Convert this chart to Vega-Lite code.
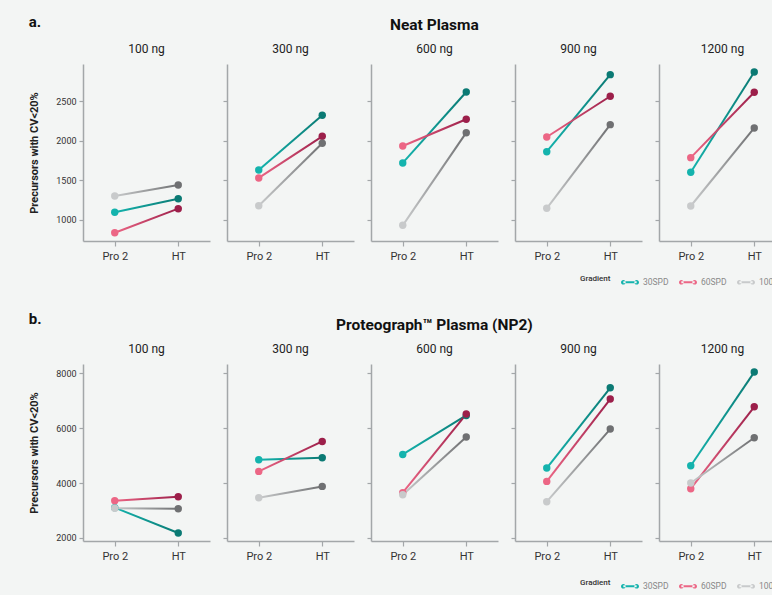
{
"$schema": "https://vega.github.io/schema/vega-lite/v6.json",
"background": "#f3f5f4",
"padding": {"left": 28, "top": 14, "right": 5, "bottom": 5},
"config": {
  "font": "Roboto",
  "view": {"stroke": null},
  "axis": {"grid": false, "domainColor": "#a3a7a9", "domainWidth": 1.5, "tickColor": "#a3a7a9", "tickWidth": 1.2, "labelColor": "#333", "labelFont": "Roboto", "titleFont": "Roboto"},
  "axisX": {"labelFontSize": 11, "tickSize": 5, "labelPadding": 4, "labelAngle": 0},
  "axisY": {"labelFontSize": 9, "tickSize": 4, "labelPadding": 3, "titleFontSize": 11, "titleFontWeight": "bold", "titleColor": "#222", "titlePadding": 16, "format": "d"},
  "title": {"font": "Roboto", "fontSize": 12, "fontWeight": "normal", "color": "#222", "offset": 8},
  "legend": {"orient": "none", "legendX": 497, "legendY": 208, "direction": "horizontal", "titleOrient": "left", "title": "Gradient", "titleFontSize": 8, "titleFontWeight": 500, "titleColor": "#333", "labelFontSize": 8.5, "labelColor": "#888", "symbolSize": 324, "columnPadding": 9, "labelOffset": 3, "titlePadding": 9}
},
"data": {"values": [
  {"plasma": "Neat", "amount": "100 ng", "gradient": "30SPD", "method": "Pro 2", "value": 1095},
  {"plasma": "Neat", "amount": "100 ng", "gradient": "30SPD", "method": "HT", "value": 1265},
  {"plasma": "Neat", "amount": "100 ng", "gradient": "60SPD", "method": "Pro 2", "value": 835},
  {"plasma": "Neat", "amount": "100 ng", "gradient": "60SPD", "method": "HT", "value": 1140},
  {"plasma": "Neat", "amount": "100 ng", "gradient": "100SPD", "method": "Pro 2", "value": 1300},
  {"plasma": "Neat", "amount": "100 ng", "gradient": "100SPD", "method": "HT", "value": 1440},
  {"plasma": "Neat", "amount": "300 ng", "gradient": "30SPD", "method": "Pro 2", "value": 1630},
  {"plasma": "Neat", "amount": "300 ng", "gradient": "30SPD", "method": "HT", "value": 2325},
  {"plasma": "Neat", "amount": "300 ng", "gradient": "60SPD", "method": "Pro 2", "value": 1530},
  {"plasma": "Neat", "amount": "300 ng", "gradient": "60SPD", "method": "HT", "value": 2058},
  {"plasma": "Neat", "amount": "300 ng", "gradient": "100SPD", "method": "Pro 2", "value": 1178},
  {"plasma": "Neat", "amount": "300 ng", "gradient": "100SPD", "method": "HT", "value": 1970},
  {"plasma": "Neat", "amount": "600 ng", "gradient": "30SPD", "method": "Pro 2", "value": 1720},
  {"plasma": "Neat", "amount": "600 ng", "gradient": "30SPD", "method": "HT", "value": 2620},
  {"plasma": "Neat", "amount": "600 ng", "gradient": "60SPD", "method": "Pro 2", "value": 1935},
  {"plasma": "Neat", "amount": "600 ng", "gradient": "60SPD", "method": "HT", "value": 2274},
  {"plasma": "Neat", "amount": "600 ng", "gradient": "100SPD", "method": "Pro 2", "value": 929},
  {"plasma": "Neat", "amount": "600 ng", "gradient": "100SPD", "method": "HT", "value": 2104},
  {"plasma": "Neat", "amount": "900 ng", "gradient": "30SPD", "method": "Pro 2", "value": 1863},
  {"plasma": "Neat", "amount": "900 ng", "gradient": "30SPD", "method": "HT", "value": 2840},
  {"plasma": "Neat", "amount": "900 ng", "gradient": "60SPD", "method": "Pro 2", "value": 2049},
  {"plasma": "Neat", "amount": "900 ng", "gradient": "60SPD", "method": "HT", "value": 2566},
  {"plasma": "Neat", "amount": "900 ng", "gradient": "100SPD", "method": "Pro 2", "value": 1145},
  {"plasma": "Neat", "amount": "900 ng", "gradient": "100SPD", "method": "HT", "value": 2206},
  {"plasma": "Neat", "amount": "1200 ng", "gradient": "30SPD", "method": "Pro 2", "value": 1601},
  {"plasma": "Neat", "amount": "1200 ng", "gradient": "30SPD", "method": "HT", "value": 2874},
  {"plasma": "Neat", "amount": "1200 ng", "gradient": "60SPD", "method": "Pro 2", "value": 1787},
  {"plasma": "Neat", "amount": "1200 ng", "gradient": "60SPD", "method": "HT", "value": 2617},
  {"plasma": "Neat", "amount": "1200 ng", "gradient": "100SPD", "method": "Pro 2", "value": 1174},
  {"plasma": "Neat", "amount": "1200 ng", "gradient": "100SPD", "method": "HT", "value": 2164},
  {"plasma": "NP2", "amount": "100 ng", "gradient": "30SPD", "method": "Pro 2", "value": 3102},
  {"plasma": "NP2", "amount": "100 ng", "gradient": "30SPD", "method": "HT", "value": 2182},
  {"plasma": "NP2", "amount": "100 ng", "gradient": "60SPD", "method": "Pro 2", "value": 3356},
  {"plasma": "NP2", "amount": "100 ng", "gradient": "60SPD", "method": "HT", "value": 3502},
  {"plasma": "NP2", "amount": "100 ng", "gradient": "100SPD", "method": "Pro 2", "value": 3080},
  {"plasma": "NP2", "amount": "100 ng", "gradient": "100SPD", "method": "HT", "value": 3065},
  {"plasma": "NP2", "amount": "300 ng", "gradient": "30SPD", "method": "Pro 2", "value": 4847},
  {"plasma": "NP2", "amount": "300 ng", "gradient": "30SPD", "method": "HT", "value": 4920},
  {"plasma": "NP2", "amount": "300 ng", "gradient": "60SPD", "method": "Pro 2", "value": 4422},
  {"plasma": "NP2", "amount": "300 ng", "gradient": "60SPD", "method": "HT", "value": 5513},
  {"plasma": "NP2", "amount": "300 ng", "gradient": "100SPD", "method": "Pro 2", "value": 3465},
  {"plasma": "NP2", "amount": "300 ng", "gradient": "100SPD", "method": "HT", "value": 3876},
  {"plasma": "NP2", "amount": "600 ng", "gradient": "30SPD", "method": "Pro 2", "value": 5040},
  {"plasma": "NP2", "amount": "600 ng", "gradient": "30SPD", "method": "HT", "value": 6458},
  {"plasma": "NP2", "amount": "600 ng", "gradient": "60SPD", "method": "Pro 2", "value": 3647},
  {"plasma": "NP2", "amount": "600 ng", "gradient": "60SPD", "method": "HT", "value": 6509},
  {"plasma": "NP2", "amount": "600 ng", "gradient": "100SPD", "method": "Pro 2", "value": 3574},
  {"plasma": "NP2", "amount": "600 ng", "gradient": "100SPD", "method": "HT", "value": 5672},
  {"plasma": "NP2", "amount": "900 ng", "gradient": "30SPD", "method": "Pro 2", "value": 4545},
  {"plasma": "NP2", "amount": "900 ng", "gradient": "30SPD", "method": "HT", "value": 7465},
  {"plasma": "NP2", "amount": "900 ng", "gradient": "60SPD", "method": "Pro 2", "value": 4058},
  {"plasma": "NP2", "amount": "900 ng", "gradient": "60SPD", "method": "HT", "value": 7054},
  {"plasma": "NP2", "amount": "900 ng", "gradient": "100SPD", "method": "Pro 2", "value": 3320},
  {"plasma": "NP2", "amount": "900 ng", "gradient": "100SPD", "method": "HT", "value": 5963},
  {"plasma": "NP2", "amount": "1200 ng", "gradient": "30SPD", "method": "Pro 2", "value": 4629},
  {"plasma": "NP2", "amount": "1200 ng", "gradient": "30SPD", "method": "HT", "value": 8036},
  {"plasma": "NP2", "amount": "1200 ng", "gradient": "60SPD", "method": "Pro 2", "value": 3793},
  {"plasma": "NP2", "amount": "1200 ng", "gradient": "60SPD", "method": "HT", "value": 6774},
  {"plasma": "NP2", "amount": "1200 ng", "gradient": "100SPD", "method": "Pro 2", "value": 4000},
  {"plasma": "NP2", "amount": "1200 ng", "gradient": "100SPD", "method": "HT", "value": 5647}
]},
"resolve": {"legend": {"color": "independent"}},
"spacing": 24,
"vconcat": [
{
  "title": {"text": "a.", "anchor": "start", "fontSize": 15, "fontWeight": "bold", "color": "#111", "dy": 20},
  "vconcat": [{
    "title": {"text": "Neat Plasma", "anchor": "middle", "fontSize": 15.5, "fontWeight": "bold", "color": "#111", "offset": 10, "dx": 27},
    "spacing": 12,
    "hconcat": [
      {"width": 127, "height": 177, "title": "100 ng",
       "transform": [{"filter": "datum.plasma == 'Neat' && datum.amount == '100 ng'"}],
       "encoding": {"x": {"field": "method", "type": "ordinal", "sort": ["Pro 2", "HT"], "scale": {"type": "point", "padding": 0.5}, "axis": {"title": null}},
                    "y": {"field": "value", "type": "quantitative", "scale": {"domain": [730, 2975], "nice": false, "zero": false}, "axis": {"title": "Precursors with CV<20%", "values": [1000, 1500, 2000, 2500]}}},
       "layer": [
         {"transform": [{"filter": "datum.gradient == '30SPD'"}], "mark": {"type": "line", "strokeWidth": 2, "stroke": {"gradient": "linear", "x1": 0, "y1": 0, "x2": 1, "y2": 0, "stops": [{"offset": 0, "color": "#14b3ad"}, {"offset": 1, "color": "#0b7a74"}]}}},
         {"transform": [{"filter": "datum.gradient == '60SPD'"}], "mark": {"type": "line", "strokeWidth": 2, "stroke": {"gradient": "linear", "x1": 0, "y1": 0, "x2": 1, "y2": 0, "stops": [{"offset": 0, "color": "#ec6685"}, {"offset": 1, "color": "#9c1f4a"}]}}},
         {"transform": [{"filter": "datum.gradient == '100SPD'"}], "mark": {"type": "line", "strokeWidth": 2, "stroke": {"gradient": "linear", "x1": 0, "y1": 0, "x2": 1, "y2": 0, "stops": [{"offset": 0, "color": "#c8cacb"}, {"offset": 1, "color": "#6f7072"}]}}},
         {"transform": [{"filter": "datum.method == 'Pro 2'"}], "mark": {"type": "circle", "size": 55, "opacity": 1}, "encoding": {"color": {"field": "gradient", "type": "nominal", "scale": {"domain": ["30SPD", "60SPD", "100SPD"], "range": ["#14b3ad", "#ec6685", "#c8cacb"]}, "legend": {"title": "Gradient", "symbolType": "M-1,0A0.26,0.26 0 1,0 -0.48,0A0.26,0.26 0 1,0 -1,0ZM0.48,0A0.26,0.26 0 1,0 1,0A0.26,0.26 0 1,0 0.48,0ZM-0.74,-0.12L0.74,-0.12L0.74,0.12L-0.74,0.12Z", "encode": {"symbols": {"update": {"fill": {"signal": "datum.value === '30SPD' ? {gradient: 'linear', x1: 0, y1: 0, x2: 1, y2: 0, stops: [{offset: 0, color: '#14b3ad'}, {offset: 1, color: '#0b7a74'}]} : datum.value === '60SPD' ? {gradient: 'linear', x1: 0, y1: 0, x2: 1, y2: 0, stops: [{offset: 0, color: '#ec6685'}, {offset: 1, color: '#9c1f4a'}]} : {gradient: 'linear', x1: 0, y1: 0, x2: 1, y2: 0, stops: [{offset: 0, color: '#c8cacb'}, {offset: 1, color: '#6f7072'}]}"}, "stroke": {"value": null}, "opacity": {"value": 1}}}}}}}},
         {"transform": [{"filter": "datum.method == 'HT'"}], "mark": {"type": "circle", "size": 55, "opacity": 1}, "encoding": {"fill": {"field": "gradient", "type": "nominal", "scale": {"domain": ["30SPD", "60SPD", "100SPD"], "range": ["#0b7a74", "#9c1f4a", "#6f7072"]}, "legend": null}}}
       ]},
      {"width": 127, "height": 177, "title": "300 ng",
       "transform": [{"filter": "datum.plasma == 'Neat' && datum.amount == '300 ng'"}],
       "encoding": {"x": {"field": "method", "type": "ordinal", "sort": ["Pro 2", "HT"], "scale": {"type": "point", "padding": 0.5}, "axis": {"title": null}},
                    "y": {"field": "value", "type": "quantitative", "scale": {"domain": [730, 2975], "nice": false, "zero": false}, "axis": {"title": null, "labels": false, "values": [1000, 1500, 2000, 2500]}}},
       "layer": [
         {"transform": [{"filter": "datum.gradient == '30SPD'"}], "mark": {"type": "line", "strokeWidth": 2, "stroke": {"gradient": "linear", "x1": 0, "y1": 0, "x2": 1, "y2": 0, "stops": [{"offset": 0, "color": "#14b3ad"}, {"offset": 1, "color": "#0b7a74"}]}}},
         {"transform": [{"filter": "datum.gradient == '60SPD'"}], "mark": {"type": "line", "strokeWidth": 2, "stroke": {"gradient": "linear", "x1": 0, "y1": 0, "x2": 1, "y2": 0, "stops": [{"offset": 0, "color": "#ec6685"}, {"offset": 1, "color": "#9c1f4a"}]}}},
         {"transform": [{"filter": "datum.gradient == '100SPD'"}], "mark": {"type": "line", "strokeWidth": 2, "stroke": {"gradient": "linear", "x1": 0, "y1": 0, "x2": 1, "y2": 0, "stops": [{"offset": 0, "color": "#c8cacb"}, {"offset": 1, "color": "#6f7072"}]}}},
         {"transform": [{"filter": "datum.method == 'Pro 2'"}], "mark": {"type": "circle", "size": 55, "opacity": 1}, "encoding": {"color": {"field": "gradient", "type": "nominal", "scale": {"domain": ["30SPD", "60SPD", "100SPD"], "range": ["#14b3ad", "#ec6685", "#c8cacb"]}}}},
         {"transform": [{"filter": "datum.method == 'HT'"}], "mark": {"type": "circle", "size": 55, "opacity": 1}, "encoding": {"fill": {"field": "gradient", "type": "nominal", "scale": {"domain": ["30SPD", "60SPD", "100SPD"], "range": ["#0b7a74", "#9c1f4a", "#6f7072"]}, "legend": null}}}
       ]},
      {"width": 127, "height": 177, "title": "600 ng",
       "transform": [{"filter": "datum.plasma == 'Neat' && datum.amount == '600 ng'"}],
       "encoding": {"x": {"field": "method", "type": "ordinal", "sort": ["Pro 2", "HT"], "scale": {"type": "point", "padding": 0.5}, "axis": {"title": null}},
                    "y": {"field": "value", "type": "quantitative", "scale": {"domain": [730, 2975], "nice": false, "zero": false}, "axis": {"title": null, "labels": false, "values": [1000, 1500, 2000, 2500]}}},
       "layer": [
         {"transform": [{"filter": "datum.gradient == '30SPD'"}], "mark": {"type": "line", "strokeWidth": 2, "stroke": {"gradient": "linear", "x1": 0, "y1": 0, "x2": 1, "y2": 0, "stops": [{"offset": 0, "color": "#14b3ad"}, {"offset": 1, "color": "#0b7a74"}]}}},
         {"transform": [{"filter": "datum.gradient == '60SPD'"}], "mark": {"type": "line", "strokeWidth": 2, "stroke": {"gradient": "linear", "x1": 0, "y1": 0, "x2": 1, "y2": 0, "stops": [{"offset": 0, "color": "#ec6685"}, {"offset": 1, "color": "#9c1f4a"}]}}},
         {"transform": [{"filter": "datum.gradient == '100SPD'"}], "mark": {"type": "line", "strokeWidth": 2, "stroke": {"gradient": "linear", "x1": 0, "y1": 0, "x2": 1, "y2": 0, "stops": [{"offset": 0, "color": "#c8cacb"}, {"offset": 1, "color": "#6f7072"}]}}},
         {"transform": [{"filter": "datum.method == 'Pro 2'"}], "mark": {"type": "circle", "size": 55, "opacity": 1}, "encoding": {"color": {"field": "gradient", "type": "nominal", "scale": {"domain": ["30SPD", "60SPD", "100SPD"], "range": ["#14b3ad", "#ec6685", "#c8cacb"]}}}},
         {"transform": [{"filter": "datum.method == 'HT'"}], "mark": {"type": "circle", "size": 55, "opacity": 1}, "encoding": {"fill": {"field": "gradient", "type": "nominal", "scale": {"domain": ["30SPD", "60SPD", "100SPD"], "range": ["#0b7a74", "#9c1f4a", "#6f7072"]}, "legend": null}}}
       ]},
      {"width": 127, "height": 177, "title": "900 ng",
       "transform": [{"filter": "datum.plasma == 'Neat' && datum.amount == '900 ng'"}],
       "encoding": {"x": {"field": "method", "type": "ordinal", "sort": ["Pro 2", "HT"], "scale": {"type": "point", "padding": 0.5}, "axis": {"title": null}},
                    "y": {"field": "value", "type": "quantitative", "scale": {"domain": [730, 2975], "nice": false, "zero": false}, "axis": {"title": null, "labels": false, "values": [1000, 1500, 2000, 2500]}}},
       "layer": [
         {"transform": [{"filter": "datum.gradient == '30SPD'"}], "mark": {"type": "line", "strokeWidth": 2, "stroke": {"gradient": "linear", "x1": 0, "y1": 0, "x2": 1, "y2": 0, "stops": [{"offset": 0, "color": "#14b3ad"}, {"offset": 1, "color": "#0b7a74"}]}}},
         {"transform": [{"filter": "datum.gradient == '60SPD'"}], "mark": {"type": "line", "strokeWidth": 2, "stroke": {"gradient": "linear", "x1": 0, "y1": 0, "x2": 1, "y2": 0, "stops": [{"offset": 0, "color": "#ec6685"}, {"offset": 1, "color": "#9c1f4a"}]}}},
         {"transform": [{"filter": "datum.gradient == '100SPD'"}], "mark": {"type": "line", "strokeWidth": 2, "stroke": {"gradient": "linear", "x1": 0, "y1": 0, "x2": 1, "y2": 0, "stops": [{"offset": 0, "color": "#c8cacb"}, {"offset": 1, "color": "#6f7072"}]}}},
         {"transform": [{"filter": "datum.method == 'Pro 2'"}], "mark": {"type": "circle", "size": 55, "opacity": 1}, "encoding": {"color": {"field": "gradient", "type": "nominal", "scale": {"domain": ["30SPD", "60SPD", "100SPD"], "range": ["#14b3ad", "#ec6685", "#c8cacb"]}}}},
         {"transform": [{"filter": "datum.method == 'HT'"}], "mark": {"type": "circle", "size": 55, "opacity": 1}, "encoding": {"fill": {"field": "gradient", "type": "nominal", "scale": {"domain": ["30SPD", "60SPD", "100SPD"], "range": ["#0b7a74", "#9c1f4a", "#6f7072"]}, "legend": null}}}
       ]},
      {"width": 127, "height": 177, "title": "1200 ng",
       "transform": [{"filter": "datum.plasma == 'Neat' && datum.amount == '1200 ng'"}],
       "encoding": {"x": {"field": "method", "type": "ordinal", "sort": ["Pro 2", "HT"], "scale": {"type": "point", "padding": 0.5}, "axis": {"title": null}},
                    "y": {"field": "value", "type": "quantitative", "scale": {"domain": [730, 2975], "nice": false, "zero": false}, "axis": {"title": null, "labels": false, "values": [1000, 1500, 2000, 2500]}}},
       "layer": [
         {"transform": [{"filter": "datum.gradient == '30SPD'"}], "mark": {"type": "line", "strokeWidth": 2, "stroke": {"gradient": "linear", "x1": 0, "y1": 0, "x2": 1, "y2": 0, "stops": [{"offset": 0, "color": "#14b3ad"}, {"offset": 1, "color": "#0b7a74"}]}}},
         {"transform": [{"filter": "datum.gradient == '60SPD'"}], "mark": {"type": "line", "strokeWidth": 2, "stroke": {"gradient": "linear", "x1": 0, "y1": 0, "x2": 1, "y2": 0, "stops": [{"offset": 0, "color": "#ec6685"}, {"offset": 1, "color": "#9c1f4a"}]}}},
         {"transform": [{"filter": "datum.gradient == '100SPD'"}], "mark": {"type": "line", "strokeWidth": 2, "stroke": {"gradient": "linear", "x1": 0, "y1": 0, "x2": 1, "y2": 0, "stops": [{"offset": 0, "color": "#c8cacb"}, {"offset": 1, "color": "#6f7072"}]}}},
         {"transform": [{"filter": "datum.method == 'Pro 2'"}], "mark": {"type": "circle", "size": 55, "opacity": 1}, "encoding": {"color": {"field": "gradient", "type": "nominal", "scale": {"domain": ["30SPD", "60SPD", "100SPD"], "range": ["#14b3ad", "#ec6685", "#c8cacb"]}}}},
         {"transform": [{"filter": "datum.method == 'HT'"}], "mark": {"type": "circle", "size": 55, "opacity": 1}, "encoding": {"fill": {"field": "gradient", "type": "nominal", "scale": {"domain": ["30SPD", "60SPD", "100SPD"], "range": ["#0b7a74", "#9c1f4a", "#6f7072"]}, "legend": null}}}
       ]}
    ]
  }]
},
{
  "title": {"text": "b.", "anchor": "start", "fontSize": 15, "fontWeight": "bold", "color": "#111", "dy": 17},
  "vconcat": [{
    "title": {"text": "Proteograph™ Plasma (NP2)", "anchor": "middle", "fontSize": 15.5, "fontWeight": "bold", "color": "#111", "offset": 10, "dx": 27},
    "spacing": 12,
    "hconcat": [
      {"width": 127, "height": 177, "title": "100 ng",
       "transform": [{"filter": "datum.plasma == 'NP2' && datum.amount == '100 ng'"}],
       "encoding": {"x": {"field": "method", "type": "ordinal", "sort": ["Pro 2", "HT"], "scale": {"type": "point", "padding": 0.5}, "axis": {"title": null}},
                    "y": {"field": "value", "type": "quantitative", "scale": {"domain": [1890, 8330], "nice": false, "zero": false}, "axis": {"title": "Precursors with CV<20%", "values": [2000, 4000, 6000, 8000]}}},
       "layer": [
         {"transform": [{"filter": "datum.gradient == '30SPD'"}], "mark": {"type": "line", "strokeWidth": 2, "stroke": {"gradient": "linear", "x1": 0, "y1": 0, "x2": 1, "y2": 0, "stops": [{"offset": 0, "color": "#14b3ad"}, {"offset": 1, "color": "#0b7a74"}]}}},
         {"transform": [{"filter": "datum.gradient == '60SPD'"}], "mark": {"type": "line", "strokeWidth": 2, "stroke": {"gradient": "linear", "x1": 0, "y1": 0, "x2": 1, "y2": 0, "stops": [{"offset": 0, "color": "#ec6685"}, {"offset": 1, "color": "#9c1f4a"}]}}},
         {"transform": [{"filter": "datum.gradient == '100SPD'"}], "mark": {"type": "line", "strokeWidth": 2, "stroke": {"gradient": "linear", "x1": 0, "y1": 0, "x2": 1, "y2": 0, "stops": [{"offset": 0, "color": "#c8cacb"}, {"offset": 1, "color": "#6f7072"}]}}},
         {"transform": [{"filter": "datum.method == 'Pro 2'"}], "mark": {"type": "circle", "size": 55, "opacity": 1}, "encoding": {"color": {"field": "gradient", "type": "nominal", "scale": {"domain": ["30SPD", "60SPD", "100SPD"], "range": ["#14b3ad", "#ec6685", "#c8cacb"]}, "legend": {"title": "Gradient", "legendY": 212, "symbolType": "M-1,0A0.26,0.26 0 1,0 -0.48,0A0.26,0.26 0 1,0 -1,0ZM0.48,0A0.26,0.26 0 1,0 1,0A0.26,0.26 0 1,0 0.48,0ZM-0.74,-0.12L0.74,-0.12L0.74,0.12L-0.74,0.12Z", "encode": {"symbols": {"update": {"fill": {"signal": "datum.value === '30SPD' ? {gradient: 'linear', x1: 0, y1: 0, x2: 1, y2: 0, stops: [{offset: 0, color: '#14b3ad'}, {offset: 1, color: '#0b7a74'}]} : datum.value === '60SPD' ? {gradient: 'linear', x1: 0, y1: 0, x2: 1, y2: 0, stops: [{offset: 0, color: '#ec6685'}, {offset: 1, color: '#9c1f4a'}]} : {gradient: 'linear', x1: 0, y1: 0, x2: 1, y2: 0, stops: [{offset: 0, color: '#c8cacb'}, {offset: 1, color: '#6f7072'}]}"}, "stroke": {"value": null}, "opacity": {"value": 1}}}}}}}},
         {"transform": [{"filter": "datum.method == 'HT'"}], "mark": {"type": "circle", "size": 55, "opacity": 1}, "encoding": {"fill": {"field": "gradient", "type": "nominal", "scale": {"domain": ["30SPD", "60SPD", "100SPD"], "range": ["#0b7a74", "#9c1f4a", "#6f7072"]}, "legend": null}}}
       ]},
      {"width": 127, "height": 177, "title": "300 ng",
       "transform": [{"filter": "datum.plasma == 'NP2' && datum.amount == '300 ng'"}],
       "encoding": {"x": {"field": "method", "type": "ordinal", "sort": ["Pro 2", "HT"], "scale": {"type": "point", "padding": 0.5}, "axis": {"title": null}},
                    "y": {"field": "value", "type": "quantitative", "scale": {"domain": [1890, 8330], "nice": false, "zero": false}, "axis": {"title": null, "labels": false, "values": [2000, 4000, 6000, 8000]}}},
       "layer": [
         {"transform": [{"filter": "datum.gradient == '30SPD'"}], "mark": {"type": "line", "strokeWidth": 2, "stroke": {"gradient": "linear", "x1": 0, "y1": 0, "x2": 1, "y2": 0, "stops": [{"offset": 0, "color": "#14b3ad"}, {"offset": 1, "color": "#0b7a74"}]}}},
         {"transform": [{"filter": "datum.gradient == '60SPD'"}], "mark": {"type": "line", "strokeWidth": 2, "stroke": {"gradient": "linear", "x1": 0, "y1": 0, "x2": 1, "y2": 0, "stops": [{"offset": 0, "color": "#ec6685"}, {"offset": 1, "color": "#9c1f4a"}]}}},
         {"transform": [{"filter": "datum.gradient == '100SPD'"}], "mark": {"type": "line", "strokeWidth": 2, "stroke": {"gradient": "linear", "x1": 0, "y1": 0, "x2": 1, "y2": 0, "stops": [{"offset": 0, "color": "#c8cacb"}, {"offset": 1, "color": "#6f7072"}]}}},
         {"transform": [{"filter": "datum.method == 'Pro 2'"}], "mark": {"type": "circle", "size": 55, "opacity": 1}, "encoding": {"color": {"field": "gradient", "type": "nominal", "scale": {"domain": ["30SPD", "60SPD", "100SPD"], "range": ["#14b3ad", "#ec6685", "#c8cacb"]}}}},
         {"transform": [{"filter": "datum.method == 'HT'"}], "mark": {"type": "circle", "size": 55, "opacity": 1}, "encoding": {"fill": {"field": "gradient", "type": "nominal", "scale": {"domain": ["30SPD", "60SPD", "100SPD"], "range": ["#0b7a74", "#9c1f4a", "#6f7072"]}, "legend": null}}}
       ]},
      {"width": 127, "height": 177, "title": "600 ng",
       "transform": [{"filter": "datum.plasma == 'NP2' && datum.amount == '600 ng'"}],
       "encoding": {"x": {"field": "method", "type": "ordinal", "sort": ["Pro 2", "HT"], "scale": {"type": "point", "padding": 0.5}, "axis": {"title": null}},
                    "y": {"field": "value", "type": "quantitative", "scale": {"domain": [1890, 8330], "nice": false, "zero": false}, "axis": {"title": null, "labels": false, "values": [2000, 4000, 6000, 8000]}}},
       "layer": [
         {"transform": [{"filter": "datum.gradient == '30SPD'"}], "mark": {"type": "line", "strokeWidth": 2, "stroke": {"gradient": "linear", "x1": 0, "y1": 0, "x2": 1, "y2": 0, "stops": [{"offset": 0, "color": "#14b3ad"}, {"offset": 1, "color": "#0b7a74"}]}}},
         {"transform": [{"filter": "datum.gradient == '60SPD'"}], "mark": {"type": "line", "strokeWidth": 2, "stroke": {"gradient": "linear", "x1": 0, "y1": 0, "x2": 1, "y2": 0, "stops": [{"offset": 0, "color": "#ec6685"}, {"offset": 1, "color": "#9c1f4a"}]}}},
         {"transform": [{"filter": "datum.gradient == '100SPD'"}], "mark": {"type": "line", "strokeWidth": 2, "stroke": {"gradient": "linear", "x1": 0, "y1": 0, "x2": 1, "y2": 0, "stops": [{"offset": 0, "color": "#c8cacb"}, {"offset": 1, "color": "#6f7072"}]}}},
         {"transform": [{"filter": "datum.method == 'Pro 2'"}], "mark": {"type": "circle", "size": 55, "opacity": 1}, "encoding": {"color": {"field": "gradient", "type": "nominal", "scale": {"domain": ["30SPD", "60SPD", "100SPD"], "range": ["#14b3ad", "#ec6685", "#c8cacb"]}}}},
         {"transform": [{"filter": "datum.method == 'HT'"}], "mark": {"type": "circle", "size": 55, "opacity": 1}, "encoding": {"fill": {"field": "gradient", "type": "nominal", "scale": {"domain": ["30SPD", "60SPD", "100SPD"], "range": ["#0b7a74", "#9c1f4a", "#6f7072"]}, "legend": null}}}
       ]},
      {"width": 127, "height": 177, "title": "900 ng",
       "transform": [{"filter": "datum.plasma == 'NP2' && datum.amount == '900 ng'"}],
       "encoding": {"x": {"field": "method", "type": "ordinal", "sort": ["Pro 2", "HT"], "scale": {"type": "point", "padding": 0.5}, "axis": {"title": null}},
                    "y": {"field": "value", "type": "quantitative", "scale": {"domain": [1890, 8330], "nice": false, "zero": false}, "axis": {"title": null, "labels": false, "values": [2000, 4000, 6000, 8000]}}},
       "layer": [
         {"transform": [{"filter": "datum.gradient == '30SPD'"}], "mark": {"type": "line", "strokeWidth": 2, "stroke": {"gradient": "linear", "x1": 0, "y1": 0, "x2": 1, "y2": 0, "stops": [{"offset": 0, "color": "#14b3ad"}, {"offset": 1, "color": "#0b7a74"}]}}},
         {"transform": [{"filter": "datum.gradient == '60SPD'"}], "mark": {"type": "line", "strokeWidth": 2, "stroke": {"gradient": "linear", "x1": 0, "y1": 0, "x2": 1, "y2": 0, "stops": [{"offset": 0, "color": "#ec6685"}, {"offset": 1, "color": "#9c1f4a"}]}}},
         {"transform": [{"filter": "datum.gradient == '100SPD'"}], "mark": {"type": "line", "strokeWidth": 2, "stroke": {"gradient": "linear", "x1": 0, "y1": 0, "x2": 1, "y2": 0, "stops": [{"offset": 0, "color": "#c8cacb"}, {"offset": 1, "color": "#6f7072"}]}}},
         {"transform": [{"filter": "datum.method == 'Pro 2'"}], "mark": {"type": "circle", "size": 55, "opacity": 1}, "encoding": {"color": {"field": "gradient", "type": "nominal", "scale": {"domain": ["30SPD", "60SPD", "100SPD"], "range": ["#14b3ad", "#ec6685", "#c8cacb"]}}}},
         {"transform": [{"filter": "datum.method == 'HT'"}], "mark": {"type": "circle", "size": 55, "opacity": 1}, "encoding": {"fill": {"field": "gradient", "type": "nominal", "scale": {"domain": ["30SPD", "60SPD", "100SPD"], "range": ["#0b7a74", "#9c1f4a", "#6f7072"]}, "legend": null}}}
       ]},
      {"width": 127, "height": 177, "title": "1200 ng",
       "transform": [{"filter": "datum.plasma == 'NP2' && datum.amount == '1200 ng'"}],
       "encoding": {"x": {"field": "method", "type": "ordinal", "sort": ["Pro 2", "HT"], "scale": {"type": "point", "padding": 0.5}, "axis": {"title": null}},
                    "y": {"field": "value", "type": "quantitative", "scale": {"domain": [1890, 8330], "nice": false, "zero": false}, "axis": {"title": null, "labels": false, "values": [2000, 4000, 6000, 8000]}}},
       "layer": [
         {"transform": [{"filter": "datum.gradient == '30SPD'"}], "mark": {"type": "line", "strokeWidth": 2, "stroke": {"gradient": "linear", "x1": 0, "y1": 0, "x2": 1, "y2": 0, "stops": [{"offset": 0, "color": "#14b3ad"}, {"offset": 1, "color": "#0b7a74"}]}}},
         {"transform": [{"filter": "datum.gradient == '60SPD'"}], "mark": {"type": "line", "strokeWidth": 2, "stroke": {"gradient": "linear", "x1": 0, "y1": 0, "x2": 1, "y2": 0, "stops": [{"offset": 0, "color": "#ec6685"}, {"offset": 1, "color": "#9c1f4a"}]}}},
         {"transform": [{"filter": "datum.gradient == '100SPD'"}], "mark": {"type": "line", "strokeWidth": 2, "stroke": {"gradient": "linear", "x1": 0, "y1": 0, "x2": 1, "y2": 0, "stops": [{"offset": 0, "color": "#c8cacb"}, {"offset": 1, "color": "#6f7072"}]}}},
         {"transform": [{"filter": "datum.method == 'Pro 2'"}], "mark": {"type": "circle", "size": 55, "opacity": 1}, "encoding": {"color": {"field": "gradient", "type": "nominal", "scale": {"domain": ["30SPD", "60SPD", "100SPD"], "range": ["#14b3ad", "#ec6685", "#c8cacb"]}}}},
         {"transform": [{"filter": "datum.method == 'HT'"}], "mark": {"type": "circle", "size": 55, "opacity": 1}, "encoding": {"fill": {"field": "gradient", "type": "nominal", "scale": {"domain": ["30SPD", "60SPD", "100SPD"], "range": ["#0b7a74", "#9c1f4a", "#6f7072"]}, "legend": null}}}
       ]}
    ]
  }]
}
]
}
